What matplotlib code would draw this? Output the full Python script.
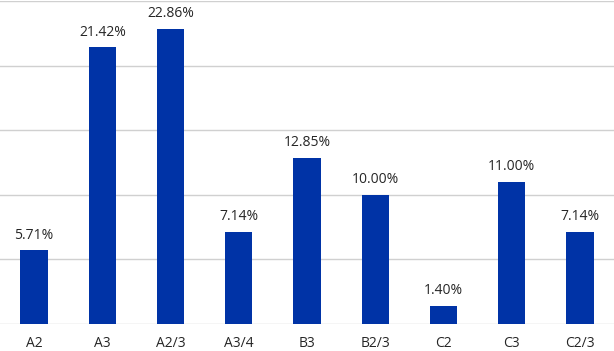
import matplotlib.pyplot as plt

categories = ["A2", "A3", "A2/3", "A3/4", "B3", "B2/3", "C2", "C3", "C2/3"]
values = [5.71, 21.42, 22.86, 7.14, 12.85, 10.00, 1.40, 11.00, 7.14]
labels = ["5.71%", "21.42%", "22.86%", "7.14%", "12.85%", "10.00%", "1.40%", "11.00%", "7.14%"]

plt.rcParams['font.family'] = ['Open Sans', 'DejaVu Sans']

fig = plt.figure(figsize=(6.14, 3.51), dpi=100)
ax = fig.add_axes([0, 0.077, 1, 0.92])

x = range(len(categories))
bars = ax.bar(x, values, width=0.4, color='#0033a6', zorder=3)

for b, lab in zip(bars, labels):
    ax.annotate(lab, (b.get_x() + b.get_width() / 2, b.get_height()),
                xytext=(0, 5.5), textcoords='offset points',
                ha='center', va='bottom', fontsize=10, color='#262626')

ax.set_xlim(-0.5, len(categories) - 0.5)
ax.set_ylim(0, 25)
ax.set_yticks([0, 5, 10, 15, 20, 25])
ax.yaxis.grid(True, color='#d0d0d0', linewidth=1, zorder=0)
ax.tick_params(axis='y', left=False, labelleft=False)
ax.tick_params(axis='x', length=0, pad=9, labelsize=10, labelcolor='#262626')
ax.set_xticks(list(x))
ax.set_xticklabels(categories)
for s in ax.spines.values():
    s.set_visible(False)

fig.savefig('out.png', dpi=100)
